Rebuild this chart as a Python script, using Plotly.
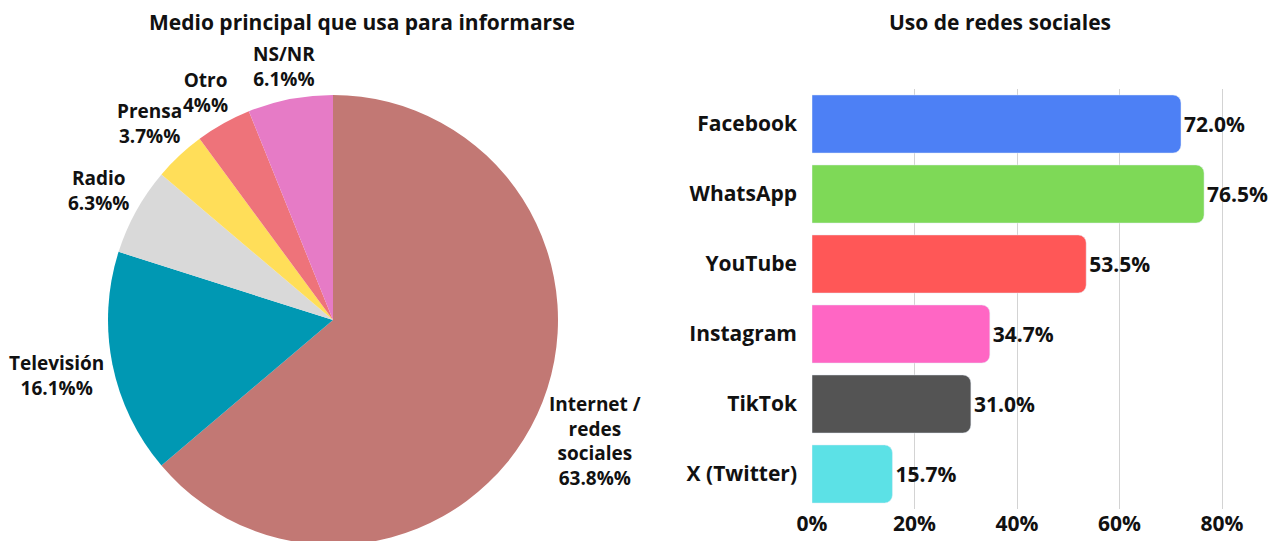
"""Medio principal para informarse (torta) + uso de redes sociales (barras)."""
import math

import plotly.graph_objects as go

# --- datos ---
medios = ["Internet /<br>redes<br>sociales", "Televisión", "Radio", "Prensa", "Otro", "NS/NR"]
medios_pct = [63.8, 16.1, 6.3, 3.7, 4, 6.1]
medios_colores = ["#c27874", "#0098b3", "#d9d9d9", "#ffde59", "#ee737a", "#e67bc6"]

redes = ["Facebook", "WhatsApp", "YouTube", "Instagram", "TikTok", "X (Twitter)"]
redes_pct = [72.0, 76.5, 53.5, 34.7, 31.0, 15.7]
redes_colores = ["#4d80f5", "#7ed957", "#ff5757", "#ff66c4", "#545454", "#5ce1e6"]

x_ticks = [0, 20, 40, 60, 80]
x_ticklabels = ["0%", "20%", "40%", "60%", "80%"]

FONT = "Open Sans"
W, H = 1279, 541
TOP = 81                       # margen superior (px)
PIE_CX, PIE_CY, PIE_R = 325, 312, 225   # torta en px de la figura
LABEL_SIZE = 19
LABEL_GAP = 7

# anchos aproximados (em) de Open Sans Bold, para separar las etiquetas de la torta
_EM = {"i": .29, "l": .29, "j": .29, "t": .39, "r": .41, "f": .37, "s": .48, "c": .48,
       "/": .40, " ": .26, ".": .28, "%": .86, "I": .34}


def text_width(s, size):
    w = 0.0
    for ch in s:
        if ch in _EM:
            w += _EM[ch]
        elif ch.isdigit():
            w += .572
        elif ch.isupper():
            w += .66
        else:
            w += .58
    return w * size


def x_px(p):
    return p / W


def y_px(p):
    """px desde arriba de la figura -> fracción vertical del área de trazado"""
    return (H - p) / (H - TOP)


fig = go.Figure()

fig.add_trace(go.Pie(
    labels=medios,
    values=medios_pct,
    sort=False,
    direction="clockwise",
    rotation=0,
    marker=dict(colors=medios_colores),
    textinfo="none",
    domain=dict(x=[x_px(PIE_CX - PIE_R), x_px(PIE_CX + PIE_R)],
                y=[y_px(PIE_CY + PIE_R), y_px(PIE_CY - PIE_R)]),
    automargin=False,
    showlegend=False,
    hoverinfo="label+value",
))

# etiquetas de la torta: en el ángulo medio de cada porción, justo fuera del borde
annotations = []
total = sum(medios_pct)
acum = 0.0
for lab, val in zip(medios, medios_pct):
    theta = 2 * math.pi * (acum + val / 2) / total
    acum += val
    lines = lab.split("<br>") + [f"{val}%%"]
    w = max(text_width(ln, LABEL_SIZE) for ln in lines)
    h = len(lines) * LABEL_SIZE * 1.1
    s, c = math.sin(theta), math.cos(theta)
    d = PIE_R + LABEL_GAP + abs(s) * w / 2 + abs(c) * h / 2
    annotations.append(dict(
        text="<b>" + "<br>".join(lines) + "</b>",
        x=x_px(PIE_CX + d * s), y=y_px(PIE_CY - d * c),
        xref="paper", yref="paper", xanchor="center", yanchor="middle",
        showarrow=False, align="center",
        font=dict(family=FONT, size=LABEL_SIZE, color="#111111"),
    ))

fig.add_trace(go.Bar(
    x=redes_pct,
    y=redes,
    orientation="h",
    marker=dict(color=redes_colores, cornerradius=8),
    texttemplate="<b>%{x:.1f}%</b>",
    textposition="outside",
    textfont=dict(family=FONT, size=21, color="#111111"),
    cliponaxis=False,
    showlegend=False,
))

annotations += [
    dict(text="<b>Medio principal que usa para informarse</b>", x=x_px(354), y=y_px(14),
         xref="paper", yref="paper", showarrow=False, xanchor="center", yanchor="middle",
         font=dict(family=FONT, size=21, color="#111111")),
    dict(text="<b>Uso de redes sociales</b>", x=x_px(992), y=y_px(14),
         xref="paper", yref="paper", showarrow=False, xanchor="center", yanchor="middle",
         font=dict(family=FONT, size=21, color="#111111")),
]

fig.update_layout(
    width=W,
    height=H,
    margin=dict(l=0, r=0, t=TOP, b=0, autoexpand=False),
    paper_bgcolor="white",
    plot_bgcolor="white",
    font=dict(family=FONT, color="#111111"),
    bargap=0.17,
    xaxis=dict(
        domain=[x_px(804), x_px(804 + 90 * 5.125)],
        range=[0, 90],
        tickvals=x_ticks,
        ticktext=[f"<b>{t}</b>" for t in x_ticklabels],
        tickfont=dict(family=FONT, size=21, color="#111111"),
        showgrid=True,
        gridcolor="#d3d3d3",
        gridwidth=1,
        zeroline=False,
        ticks="",
        automargin=False,
        fixedrange=True,
    ),
    yaxis=dict(
        domain=[y_px(501), 1],
        autorange="reversed",
        tickfont=dict(family=FONT, size=21, color="#111111"),
        tickmode="array",
        tickvals=redes,
        ticktext=[f"<b>{r}</b>" for r in redes],
        ticklabelstandoff=14,
        showgrid=False,
        automargin=False,
        fixedrange=True,
    ),
    annotations=annotations,
)

fig.write_html("out.html")
